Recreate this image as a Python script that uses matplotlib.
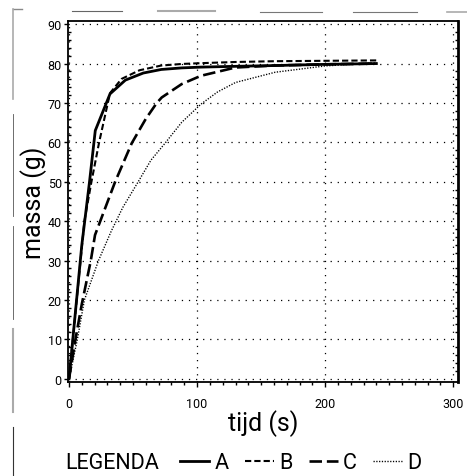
import matplotlib
matplotlib.use("Agg")
import matplotlib.pyplot as plt
from matplotlib.lines import Line2D
from matplotlib.ticker import MultipleLocator

plt.rcParams['font.family'] = ['Roboto', 'Liberation Sans', 'DejaVu Sans']
plt.rcParams['lines.scale_dashes'] = False

# Data
t_A = [0, 10, 16, 20.5, 32, 44, 58, 72, 88, 103, 130, 161, 200, 240]
m_A = [0, 34, 50, 63.0, 72.3, 75.8, 77.6, 78.5, 78.9, 79.1, 79.3, 79.5, 79.8, 80.0]

t_B = [0, 12, 17.5, 23.5, 32, 41, 55, 72, 88, 103, 130, 161, 200, 240]
m_B = [0, 40, 50, 60, 72.5, 76.1, 78.3, 79.5, 79.9, 80.1, 80.4, 80.6, 80.7, 80.8]

t_C = [0, 5, 10, 17, 20.3, 36, 49, 60, 68.5, 72.4, 88, 103, 130, 160, 200, 240]
m_C = [0, 10, 19, 30, 36.5, 50, 59.8, 66, 70, 71.4, 74.8, 76.9, 79.0, 79.5, 79.8, 80.0]

t_D = [0, 6.5, 12, 23, 33, 42, 54, 64, 75, 88, 103, 116, 130, 161, 200, 240]
m_D = [0, 10, 20, 30, 37.5, 43.5, 50, 55.5, 59.8, 65.1, 69.7, 72.8, 75.2, 77.8, 79.4, 80.2]

series_labels = ['A', 'B', 'C', 'D']
x_ticks = [0, 100, 200, 300]
y_ticks = [0, 10, 20, 30, 40, 50, 60, 70, 80, 90]

W, H = 467, 477
fig = plt.figure(figsize=(W / 100, H / 100), dpi=100)
ax = fig.add_axes([68 / W, 1 - 383 / H, (457.7 - 68) / W, (383 - 22) / H])

styles = [
    dict(color='black', lw=2.0, linestyle='-'),
    dict(color='black', lw=1.5, linestyle=(0, (4.5, 2.2))),
    dict(color='black', lw=1.9, linestyle=(0, (9, 3.5))),
    dict(color='black', lw=1.0, linestyle=(0, (0.9, 1.1))),
]
handles = []
for (tt, mm), st, lab in zip([(t_A, m_A), (t_B, m_B), (t_C, m_C), (t_D, m_D)], styles, series_labels):
    h, = ax.plot(tt, mm, label=lab, **st)
    handles.append(h)

ax.set_xlim(-0.8, 303.5)
ax.set_ylim(-0.8, 90.8)
ax.set_xticks(x_ticks)
ax.set_yticks(y_ticks)
ax.xaxis.set_minor_locator(MultipleLocator(10))
ax.yaxis.set_minor_locator(MultipleLocator(2))

ax.grid(True, which='major', color='black', lw=0.9, linestyle=(0, (0.9, 4.2)))

for s in ['left', 'bottom', 'top']:
    ax.spines[s].set_linewidth(1.3)
ax.spines['right'].set_linewidth(2.0)

ax.tick_params(axis='x', which='major', direction='out', length=3.5, width=1.0,
               labelsize=9, pad=7)
ax.tick_params(axis='x', which='minor', direction='out', length=2.5, width=1.0)
ax.tick_params(axis='y', which='major', direction='out', length=3, width=1.0,
               labelsize=9, pad=1.5)
ax.tick_params(axis='y', which='minor', direction='in', length=2, width=1.0,
               left=True, right=True)

ax.set_xlabel('tijd (s)', fontsize=18)
ax.set_ylabel('massa (g)', fontsize=18)
ax.xaxis.set_label_coords(0.5, -0.075)
ax.yaxis.set_label_coords(-0.055, 0.5)

# Legend
fig.text(65 / W, 1 - 464 / H, 'LEGENDA', fontsize=15.5, ha='left', va='center')
leg = fig.legend(handles=handles, labels=series_labels, loc='center left',
                 bbox_to_anchor=(180 / W, 1 - 464 / H), ncol=4, frameon=False,
                 fontsize=15.5, handlelength=1.35,
                 handletextpad=0.25, columnspacing=0.75, borderpad=0,
                 borderaxespad=0)

# Scanned frame remnants
def seg(x0, y0, x1, y1, color, lw):
    fig.add_artist(Line2D([x0 / W, x1 / W], [1 - y0 / H, 1 - y1 / H],
                          color=color, lw=lw, transform=fig.transFigure))

seg(13, 10, 22, 10, '#888888', 1.0)
seg(13, 10, 13, 100, '#aaaaaa', 1.2)
seg(12.5, 115, 12.5, 217, '#555555', 0.6)
seg(12.5, 227, 12.5, 320, '#555555', 0.6)
seg(12.5, 330, 12.5, 413, '#aaaaaa', 1.5)
seg(12.5, 428, 12.5, 477, '#333333', 0.8)
seg(72, 11.7, 122, 11.7, '#666666', 0.8)
seg(158, 11.7, 215, 11.7, '#aaaaaa', 1.5)
seg(260, 12.5, 322, 12.5, '#777777', 0.8)
seg(353, 12.5, 417, 12.5, '#777777', 0.8)
seg(447, 13, 467, 13, '#aaaaaa', 1.2)

fig.savefig('out.png', dpi=100)
